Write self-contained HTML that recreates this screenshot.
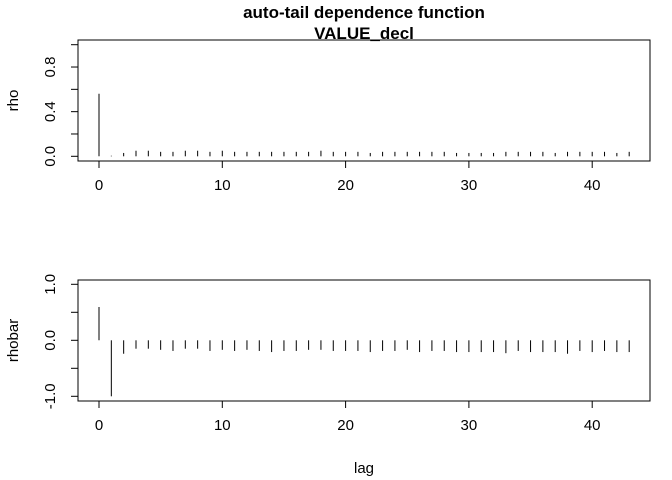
<!DOCTYPE html>
<html><head><meta charset="utf-8"><style>
body{margin:0;background:#fff}
svg{display:block;font-family:"Liberation Sans",Arial,sans-serif}
</style></head><body>
<svg id="c" width="672" height="480"></svg>
<script>
const lags=[];for(let i=0;i<=43;i++)lags.push(i);
const rho=[0.56,0.005,0.03,0.05,0.05,0.04,0.04,0.05,0.05,0.04,0.05,0.04,0.04,0.04,0.04,0.04,0.04,0.04,0.05,0.04,0.04,0.04,0.03,0.04,0.04,0.04,0.04,0.04,0.04,0.03,0.03,0.03,0.03,0.04,0.04,0.04,0.04,0.03,0.04,0.04,0.04,0.04,0.03,0.04];
const rhobar=[0.595,-1.0,-0.24,-0.15,-0.15,-0.17,-0.19,-0.15,-0.15,-0.19,-0.17,-0.19,-0.17,-0.19,-0.21,-0.19,-0.19,-0.17,-0.17,-0.19,-0.19,-0.19,-0.21,-0.19,-0.19,-0.17,-0.21,-0.19,-0.19,-0.21,-0.21,-0.21,-0.21,-0.23,-0.19,-0.21,-0.21,-0.21,-0.24,-0.19,-0.21,-0.19,-0.21,-0.21];
const xTicks=[0,10,20,30,40];
const rhoTicks=[0,0.2,0.4,0.6,0.8,1.0];
const rhoLabels=["0.0","","0.4","","0.8",""];
const rhobarTicks=[-1,-0.5,0,0.5,1];
const rhobarLabels=["-1.0","","0.0","","1.0"];
const svg=document.getElementById('c');const NS="http://www.w3.org/2000/svg";
function mk(t,a,txt){const e=document.createElementNS(NS,t);for(const k in a)e.setAttribute(k,a[k]);if(txt!==undefined)e.textContent=txt;svg.appendChild(e);return e;}
const X=v=>99+v*12.33;
function panel(name,top,bottom,y,ticks,labels,vals,ylab){
  const b=mk('rect',{x:78,y:top,width:572,height:bottom-top,fill:'none',stroke:'#000'});
  
  xTicks.forEach(t=>{const l=mk('line',{x1:X(t),x2:X(t),y1:bottom,y2:bottom+7,stroke:'#000'});
    
    const s=mk('text',{x:X(t),y:bottom+29,'font-size':15,'text-anchor':'middle'},t);
    });
  ticks.forEach((t,i)=>{const l=mk('line',{x1:71,x2:78,y1:y(t),y2:y(t),stroke:'#000'});
    
    if(labels[i]){const s=mk('text',{x:0,y:0,'font-size':15,'text-anchor':'middle',transform:`translate(55,${y(t)}) rotate(-90)`},labels[i]);
    }});
  vals.forEach((v,i)=>{const l=mk('line',{x1:X(lags[i]),x2:X(lags[i]),y1:y(0),y2:y(v),stroke:'#000'});
    });
  const t=mk('text',{x:0,y:0,'font-size':15,'text-anchor':'middle',transform:`translate(18,${(top+bottom)/2}) rotate(-90)`},ylab);
  
}
panel('rho',40,161,v=>156.3-v*111.6,rhoTicks,rhoLabels,rho,'rho');
panel('rhobar',280,401,v=>340.3-v*56,rhobarTicks,rhobarLabels,rhobar,'rhobar');
let t=mk('text',{x:364,y:18,'font-size':17,'font-weight':'bold','text-anchor':'middle'},'auto-tail dependence function');

t=mk('text',{x:364,y:39,'font-size':17,'font-weight':'bold','text-anchor':'middle'},'VALUE_decl');

t=mk('text',{x:364,y:473,'font-size':15,'text-anchor':'middle'},'lag');

</script>
</body></html>
